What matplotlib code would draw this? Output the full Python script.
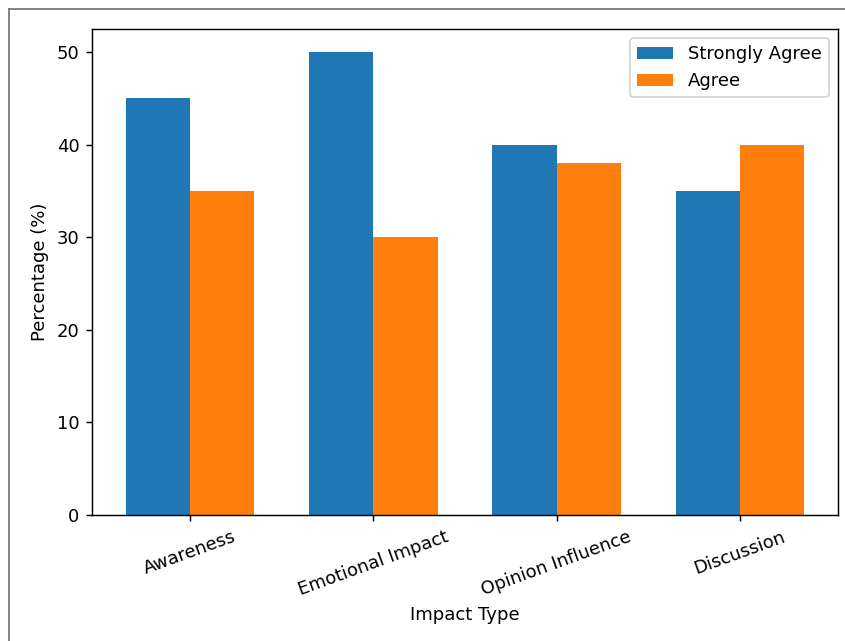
import matplotlib.pyplot as plt
import numpy as np
from matplotlib.lines import Line2D

categories = ["Awareness", "Emotional Impact", "Opinion Influence", "Discussion"]
strongly_agree = [45, 50, 40, 35]
agree = [35, 30, 38, 40]

x = np.arange(len(categories))
width = 0.35

# screenshot was a scaled-up default figure, so draw at a higher dpi
dpi = 130
fig = plt.figure(figsize=(845 / dpi, 641 / dpi), dpi=dpi)
ax = fig.add_axes([0.1089, 0.1966, 0.8828, 0.7582])

ax.bar(x - width / 2, strongly_agree, width, label="Strongly Agree")
ax.bar(x + width / 2, agree, width, label="Agree")

ax.set_xticks(x)
ax.set_xticklabels(categories, rotation=20)
ax.set_xlabel("Impact Type")
ax.set_ylabel("Percentage (%)")
ax.legend()

# grey border round the screenshot
fig.add_artist(Line2D([9 / 845, 9 / 845], [0, 1 - 9 / 641], color="#777777", lw=1.0))
fig.add_artist(Line2D([9 / 845, 1], [1 - 9 / 641, 1 - 9 / 641], color="#777777", lw=1.0))

fig.savefig("out.png", dpi=dpi)
